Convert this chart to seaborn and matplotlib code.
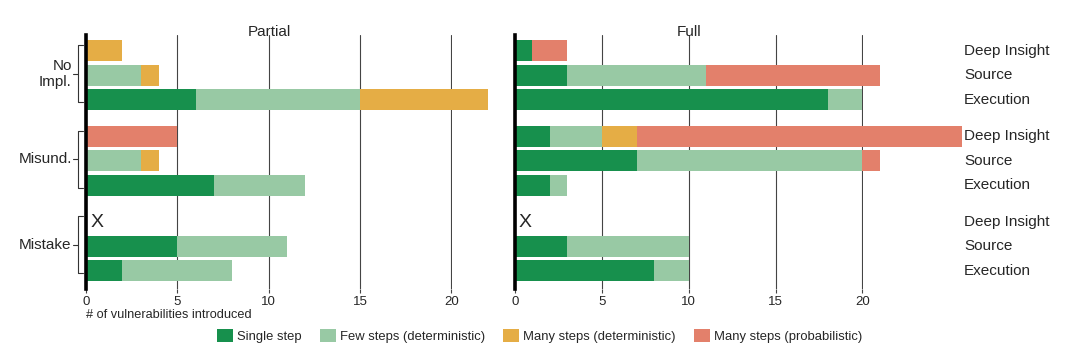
import numpy as np
import pandas as pd
import matplotlib
matplotlib.use("Agg")
import matplotlib.pyplot as plt
import matplotlib.transforms as mtransforms
from matplotlib.patches import Patch
import seaborn as sns

# categories
groups = ["No\nImpl.", "Misund.", "Mistake"]
rows = ["Deep Insight", "Source", "Execution"]
series = ["Single step", "Few steps (deterministic)",
          "Many steps (deterministic)", "Many steps (probabilistic)"]
colors = ["#17904D", "#98C9A4", "#E5AD45", "#E3806B"]

# values per row: No Impl. (DI, Src, Exec), Misund. (...), Mistake (...)
partial_single = [0, 0, 6, 0, 0, 7, 0, 5, 2]
partial_few = [0, 3, 9, 0, 3, 5, 0, 6, 6]
partial_many_det = [2, 1, 7, 0, 1, 0, 0, 0, 0]
partial_many_prob = [0, 0, 0, 5, 0, 0, 0, 0, 0]

full_single = [1, 3, 18, 2, 7, 2, 0, 3, 8]
full_few = [0, 8, 2, 3, 13, 1, 0, 7, 2]
full_many_det = [0, 0, 0, 2, 0, 0, 0, 0, 0]
full_many_prob = [2, 10, 0, 18.7, 1, 0, 0, 0, 0]

sns.set_style("white")
plt.rcParams["font.family"] = ["Liberation Sans", "DejaVu Sans"]

fig = plt.figure(figsize=(10.69, 3.57), dpi=100)
ax1 = fig.add_axes([0.0804, 0.1905, 0.3424, 0.7115])
ax2 = fig.add_axes([0.4818, 0.1905, 0.3255, 0.7115])

# row positions, groups spaced a bit apart
pos = [g * 3.5 + i for g in range(len(groups)) for i in range(len(rows))]


def draw_panel(ax, title, layers):
    df = pd.DataFrame({"pos": pos})
    cum = np.cumsum(np.array(layers, dtype=float), axis=0)
    # stacked bars: draw running totals longest first, shorter on top
    for k in range(len(layers) - 1, -1, -1):
        df["val"] = cum[k]
        sns.barplot(data=df, x="val", y="pos", orient="h", native_scale=True,
                    color=colors[k], saturation=1, width=0.86, errorbar=None,
                    linewidth=0, ax=ax)
    for p in ax.patches:
        p.set_clip_on(False)

    # nothing introduced -> X
    for y, tot in zip(pos, cum[-1]):
        if tot == 0:
            ax.text(0.6, y, "X", ha="center", va="center", fontsize=14)

    ax.set_title(title, fontsize=11, pad=-1)
    ax.set_xticks([0, 5, 10, 15, 20])
    ax.set_yticks([])
    ax.set_ylabel("")
    ax.set_xlabel("")
    ax.grid(axis="x", color="#444444", lw=0.8)
    ax.set_axisbelow(True)
    for s in ["top", "right", "bottom"]:
        ax.spines[s].set_visible(False)
    ax.spines["left"].set_linewidth(2.6)
    ax.spines["left"].set_color("black")
    ax.tick_params(axis="x", bottom=True, length=3, width=0.8, color="#444444",
                   labelsize=9.5, pad=2)


draw_panel(ax1, "Partial", [partial_single, partial_few, partial_many_det, partial_many_prob])
draw_panel(ax2, "Full", [full_single, full_few, full_many_det, full_many_prob])

ax1.set_xlabel("# of vulnerabilities introduced", loc="left", fontsize=9.2, labelpad=1)

# group brackets on the left
trans1 = mtransforms.blended_transform_factory(ax1.transAxes, ax1.transData)
for g, name in enumerate(groups):
    top = g * 3.5 - 0.23
    bot = g * 3.5 + 2.09
    mid = g * 3.5 + 0.93
    ax1.plot([-0.008, -0.022, -0.022, -0.008], [top, top, bot, bot],
             transform=trans1, color="#333333", lw=0.8, clip_on=False)
    ax1.plot([-0.036, -0.022], [mid, mid], transform=trans1,
             color="#333333", lw=0.8, clip_on=False)
    ax1.text(-0.039, mid, name, transform=trans1, ha="right", va="center",
             fontsize=11, multialignment="right")

# row names on the right
trans2 = mtransforms.blended_transform_factory(ax2.transAxes, ax2.transData)
for y, r in zip(pos, rows * len(groups)):
    ax2.text(1.29, y, r, transform=trans2, ha="left", va="center", fontsize=11)

for ax in (ax1, ax2):
    ax.set_xlim(0, 20.03)
    ax.set_ylim(9.74, -0.65)

handles = [Patch(facecolor=c, edgecolor="none") for c in colors]
fig.legend(handles, series, loc="center", bbox_to_anchor=(0.5047, 0.059), ncol=4,
           frameon=False, fontsize=9.4, handlelength=1.23, handleheight=1.23,
           handletextpad=0.3, columnspacing=1.4)

fig.savefig("out.png", dpi=100)
